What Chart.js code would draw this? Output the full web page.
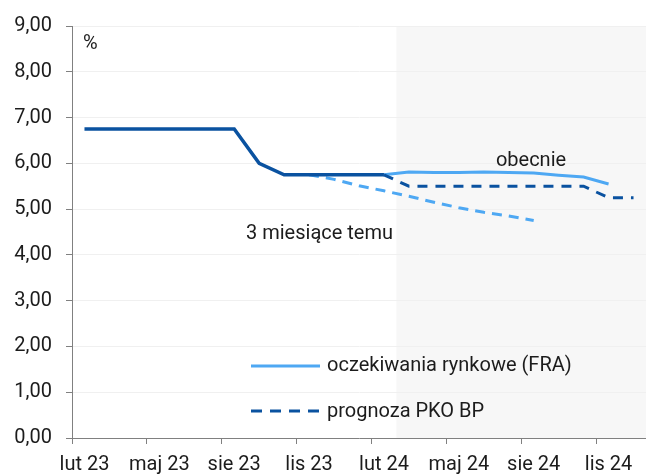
<!DOCTYPE html>
<html>
<head>
<meta charset="utf-8">
<script src="https://cdn.jsdelivr.net/npm/chart.js@4.4.1/dist/chart.umd.min.js"></script>
<style>
  html, body { margin: 0; padding: 0; background: #fff; }
  #wrap { width: 646px; height: 474px; }
</style>
</head>
<body>
<div id="wrap"><canvas id="c" width="646" height="474"></canvas></div>
<script>
// months Feb 2023 .. Dec 2024
const months = ['lut 23', 'mar 23', 'kwi 23', 'maj 23', 'cze 23', 'lip 23', 'sie 23', 'wrz 23', 'paź 23', 'lis 23', 'gru 23', 'sty 24',
  'lut 24', 'mar 24', 'kwi 24', 'maj 24', 'cze 24', 'lip 24', 'sie 24', 'wrz 24', 'paź 24', 'lis 24', 'gru 24'];

const history = [6.75, 6.75, 6.75, 6.75, 6.75, 6.75, 6.75, 6.00, 5.75, 5.75, 5.75, 5.75, 5.75,
  null, null, null, null, null, null, null, null, null, null];
const fraNow = [null, null, null, null, null, null, null, null, null, null, null, null, 5.75,
  5.81, 5.80, 5.80, 5.81, 5.80, 5.79, 5.74, 5.70, 5.55, null];
const fra3mAgo = [null, null, null, null, null, null, null, null, null, 5.75, 5.65, 5.51, 5.40,
  5.28, 5.15, 5.03, 4.93, 4.85, 4.75, null, null, null, null];
const pkoForecast = [null, null, null, null, null, null, null, null, null, null, null, null, 5.75,
  5.50, 5.50, 5.50, 5.50, 5.50, 5.50, 5.50, 5.50, 5.25, 5.25];

const shadeFrom = 13; // first forecast month (mar 24)

const DARK = '#0a52a0';
const LIGHT = '#4ea8f3';
const TEXT = '#1c1c1c';
const FONT = "Roboto, 'Noto Sans', sans-serif";

const fmt = v => v.toFixed(2).replace('.', ',');

// grey background for the forecast period
const shadePlugin = {
  id: 'shade',
  beforeDraw(chart) {
    const { ctx, chartArea, scales: { x } } = chart;
    const half = (x.getPixelForValue(1) - x.getPixelForValue(0)) / 2;
    const left = x.getPixelForValue(shadeFrom) - half;
    ctx.save();
    ctx.fillStyle = '#f7f7f7';
    ctx.fillRect(left, chartArea.top, chartArea.right - left, chartArea.bottom - chartArea.top);
    ctx.restore();
  }
};

// labels and in-plot legend
const notesPlugin = {
  id: 'notes',
  afterDatasetsDraw(chart) {
    const { ctx } = chart;
    ctx.save();
    ctx.font = '20px ' + FONT;
    ctx.fillStyle = TEXT;
    ctx.textBaseline = 'middle';
    ctx.textAlign = 'left';
    ctx.fillText('%', 83, 44);
    ctx.fillText('3 miesiące temu', 246, 234);
    ctx.textAlign = 'center';
    ctx.fillText('obecnie', 531, 161);

    ctx.textAlign = 'left';
    ctx.lineWidth = 3;
    ctx.strokeStyle = LIGHT;
    ctx.beginPath(); ctx.moveTo(251, 366); ctx.lineTo(320, 366); ctx.stroke();
    ctx.fillText('oczekiwania rynkowe (FRA)', 327, 366);

    ctx.strokeStyle = DARK;
    ctx.setLineDash([11, 8]);
    ctx.beginPath(); ctx.moveTo(251, 411); ctx.lineTo(320, 411); ctx.stroke();
    ctx.setLineDash([]);
    ctx.fillText('prognoza PKO BP', 327, 412);
    ctx.restore();
  }
};

new Chart(document.getElementById('c'), {
  type: 'line',
  data: {
    labels: months,
    datasets: [
      { data: history, borderColor: DARK, borderWidth: 3.5 },
      { data: pkoForecast, borderColor: DARK, borderWidth: 3, borderDash: [10, 8] },
      { data: fraNow, borderColor: LIGHT, borderWidth: 3 },
      { data: fra3mAgo, borderColor: LIGHT, borderWidth: 3, borderDash: [10, 7] }
    ]
  },
  options: {
    responsive: false,
    animation: false,
    spanGaps: false,
    elements: { point: { radius: 0 }, line: { tension: 0, borderCapStyle: 'butt' } },
    layout: { padding: { top: 24, right: 0, left: 0, bottom: 0 } },
    plugins: { legend: { display: false }, tooltip: { enabled: false } },
    scales: {
      x: {
        type: 'category',
        offset: true,
        afterFit: s => { s.height = 36; },
        grid: {
          offset: true,
          drawOnChartArea: false,
          tickLength: 6,
          tickColor: c => (c.index % 3 === 0 ? '#808080' : 'rgba(0,0,0,0)')
        },
        border: { color: '#808080', width: 1 },
        ticks: {
          autoSkip: false,
          maxRotation: 0,
          padding: 9,
          color: TEXT,
          font: { family: FONT, size: 20 },
          callback: (v, i) => (i % 3 === 0 ? months[i] : '')
        }
      },
      y: {
        min: 0,
        max: 9,
        afterFit: s => { s.width = 72; },
        grid: { color: '#f0f0f0', tickColor: '#808080', tickLength: 6 },
        border: { color: '#808080', width: 1 },
        ticks: {
          stepSize: 1,
          padding: 14,
          color: TEXT,
          font: { family: FONT, size: 20 },
          callback: v => fmt(v)
        }
      }
    }
  },
  plugins: [shadePlugin, notesPlugin]
});
</script>
</body>
</html>
